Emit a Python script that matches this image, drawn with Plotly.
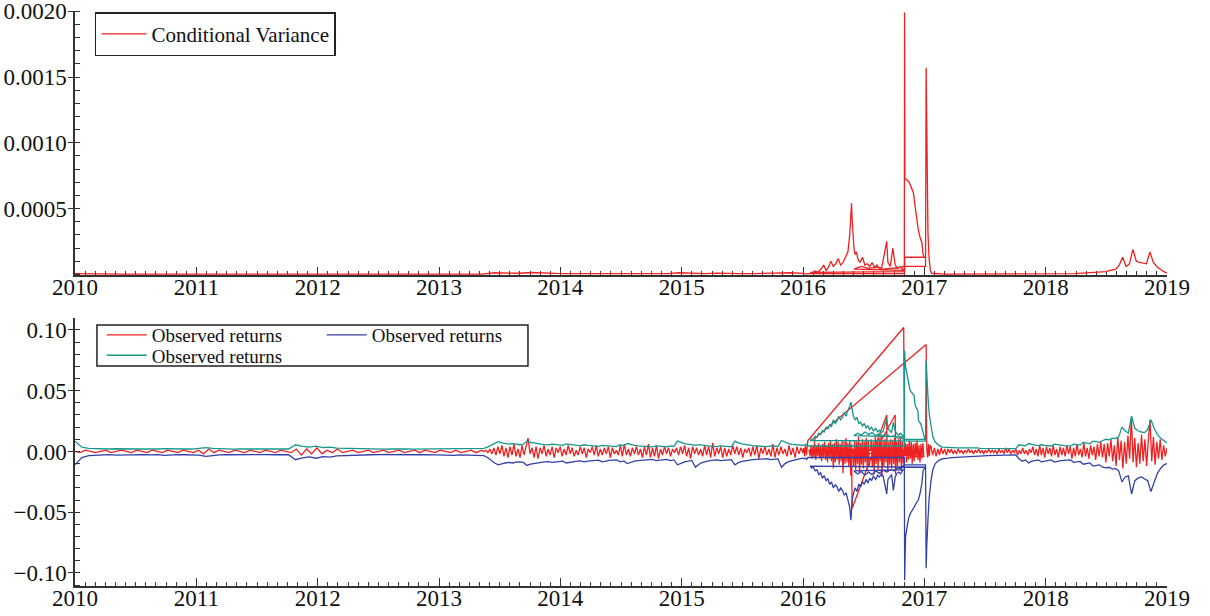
import numpy as np
import plotly.graph_objects as go

# ------------------------------------------------------------------
# DATA  (returns/bands in per-mille, conditional variance in 1e-6)
# quiet stretches are evenly sampled between the given start/end years
# ------------------------------------------------------------------
SPAN_A = (2010.0, 2013.35)
SPAN_B = (2013.37, 2016.0)

RED_A = [0, -1, 1, 0, -1, 0, 1, -1, 0, 1,
         0, -1, 1, 0, -1, 1, 0, -1, 1, 0,
         -1, 1, 0, -1, 1, -2, 2, -1, 1, 0,
         -1, 1, 0, -1, 1, 0, -1, 1, 0, -1,
         1, 0, -1, 2, -3, 2, -2, 3, -2, 1,
         -1, 2, -1, 0, 1, -1, 0, 1, -1, 0,
         1, -1, 0, 1, -1, 0, 1, -1, 1, 0,
         -1, 1, 0, -1, 1, -1, 0, 1, -1, 1]

GREEN_A = [8.5, 3.5, 2.5, 2.2, 2, 2, 2.2, 2, 1.8, 2,
           2, 1.8, 2, 2.3, 2, 1.8, 2, 2, 2.3, 3.2,
           2.6, 2.2, 2, 1.9, 2, 2, 1.8, 2, 2, 1.9,
           2, 2, 5.5, 4.2, 3.6, 4.3, 3.2, 3.6, 2.8, 2.6,
           2.4, 2.2, 2.1, 2, 2, 1.9, 2, 2.2, 2, 1.9,
           2, 2, 2.1, 2, 2.2, 2.5, 2.2, 2.4, 2.2, 2.5]

BLUE_A = [-11, -5, -3.5, -3, -2.8, -2.6, -3, -2.8, -2.6, -2.7,
          -2.6, -2.8, -2.6, -3.2, -2.8, -2.6, -2.7, -2.6, -3, -4,
          -3.2, -2.9, -2.7, -2.6, -2.7, -2.8, -2.6, -2.7, -2.6, -2.7,
          -2.6, -2.7, -6.8, -5.2, -4.5, -5.6, -4.2, -4.6, -3.6, -3.3,
          -3.1, -2.9, -2.8, -2.7, -2.6, -2.7, -2.6, -2.9, -2.7, -2.6,
          -2.7, -2.6, -2.8, -2.6, -2.9, -3.2, -2.9, -3.1, -3.3, -3.4]

RED_B = [0, 1, -1, 2, -2, 3, -3, 4, -2, 5, -4, 3, -5, 4, -3, 6, -4, 2, -5, 5,
         -3, 4, 11, -2, 3, -5, 4, -6, 3, -2, 5, -4, 2, -3, 4, -5, 3, -1, 4, -4,
         2, -3, 5, -2, 3, -4, 1, -3, 4, -2, 3, -5, 2, -1, 4, -3, 5, -4, 2, -3,
         3, -2, 4, -5, 3, -2, 1, -3, 5, -4, 6, -3, 2, -4, 3, -2, 4, -3, 2, -5,
         4, -3, 6, -5, 3, -4, 5, -6, 2, -3, 4, -2, 3, -4, 2, -1, 3, -3, 4, -2,
         5, -4, 3, -6, 4, -2, 3, -3, 2, -4, 5, -3, 4, -5, 7, -4, 3, -2, 4, -5,
         3, -4, 2, -3, 5, -2, 4, -3, 3, -5, 2, -1, 3, -4, 4, -3, 5, -6, 3, -2,
         4, -3, 2, -4, 6, -5, 3, -3, 4, -2, 2, -4, 5, -3, 3, -5, 4, -2, 3, -1]

GREEN_B = [2.5, 3.5, 5, 6.5, 8, 7, 6.5, 6, 6.5, 5.8,
           5.5, 6, 8.5, 7.5, 6.8, 6.2, 6, 5.6, 5.4, 6,
           5.5, 5.2, 5, 6.2, 5.6, 5.2, 5, 4.8, 5.5, 5,
           4.6, 4.4, 4.2, 5, 4.6, 4.4, 4.2, 4, 5.5, 4.8,
           6.5, 5.6, 5, 4.6, 4.4, 4.2, 4, 3.8, 4.6, 4.2,
           4, 3.8, 4.5, 4.2, 8.5, 7.2, 6.4, 6, 5.4, 5,
           5.6, 5, 4.6, 4.4, 4.2, 4, 4.6, 4.2, 4, 3.8,
           8.5, 7, 6.2, 5.6, 5.2, 4.8, 4.5, 4.3, 4.2, 4,
           4.6, 4.3, 4.1, 9, 7.4, 6.4, 5.8, 5.4, 5, 5]

BLUE_B = [-3.5, -5, -7.5, -9.5, -11, -10, -9.5, -9, -9.5, -8.8,
          -8.5, -9, -11.5, -10.5, -9.8, -9.2, -9, -8.6, -8.4, -9,
          -8.5, -8.2, -8, -9.5, -8.8, -8.2, -8, -7.8, -8.5, -8,
          -7.6, -7.4, -7.2, -8.5, -7.8, -7.4, -7.2, -7, -8.5, -7.8,
          -10, -8.8, -8, -7.6, -7.2, -7, -6.8, -6.6, -7.5, -7,
          -6.8, -6.6, -7.5, -7, -11, -9.5, -8.5, -8, -7.4, -13,
          -10.5, -9, -8, -7.5, -7.2, -7, -7.6, -7.2, -7, -6.8,
          -11, -9.2, -8.2, -7.6, -7.2, -6.8, -6.5, -6.3, -6.2, -6,
          -6.8, -6.3, -6.1, -13, -10, -8.4, -7.4, -6.8, -6.2, -5.5]

# 2016 stretch: the file's dates are out of order here, so (year, value) pairs
RED_2016 = [
    (2016.005, 3), (2016.012, -4), (2016.020, 5), (2016.028, -3), (2016.035, 4), (2016.040, 9),
    (2016.830, 102), (2016.836, -4),
    (2016.845, 7), (2016.852, -9), (2016.860, 6), (2016.868, -7), (2016.876, 9), (2016.884, -6),
    (2016.892, 8), (2016.900, -10), (2016.908, 6), (2016.916, -8), (2016.924, 7), (2016.932, -5),
    (2016.940, 9), (2016.948, -7), (2016.956, 5), (2016.964, -9), (2016.972, 6), (2016.980, -6),
    (2016.988, 7), (2016.996, -4),
    (2016.050, 1),
    (2016.058, -4), (2016.066, 5), (2016.074, -6), (2016.082, 4), (2016.090, -5), (2016.098, 6),
    (2016.106, -7), (2016.114, 5), (2016.122, -4), (2016.130, 7), (2016.138, -6), (2016.146, 4),
    (2016.154, -8), (2016.162, 6), (2016.170, -5), (2016.178, 8), (2016.186, -7), (2016.194, 5),
    (2016.202, -9), (2016.210, 7), (2016.218, -6), (2016.226, 9), (2016.234, -8), (2016.242, 6),
    (2016.250, -14), (2016.258, 7), (2016.266, -9), (2016.274, 10), (2016.282, -7), (2016.290, 8),
    (2016.298, -11), (2016.306, 6), (2016.314, -8), (2016.322, 9), (2016.330, -18), (2016.338, 8),
    (2016.346, -10), (2016.354, 11), (2016.362, -9), (2016.370, 7), (2016.378, -12), (2016.386, 9),
    (2016.394, -20), (2016.400, 6), (2016.405, -47),
    (2016.690, 30), (2016.693, -5), (2016.410, 2),
    (2016.418, -12), (2016.426, 9), (2016.434, -15), (2016.442, 8), (2016.450, -10), (2016.458, 12),
    (2016.466, -18), (2016.474, 7), (2016.482, -11), (2016.490, 10), (2016.498, -14), (2016.506, 8),
    (2016.514, -9), (2016.522, 11), (2016.530, -16), (2016.538, 9), (2016.546, -12), (2016.550, -8),
    (2016.760, 30), (2016.763, -3), (2016.555, 1),
    (2016.563, 10), (2016.571, -13), (2016.579, 8), (2016.587, -19), (2016.595, 12), (2016.603, -10),
    (2016.611, 9), (2016.619, -15), (2016.627, 11), (2016.635, -8), (2016.643, 13), (2016.651, -21),
    (2016.659, 9), (2016.667, -12), (2016.675, 10), (2016.683, -9), (2016.691, 12), (2016.699, -17),
    (2016.707, 8), (2016.715, -11), (2016.723, 10), (2016.731, -14), (2016.739, 9), (2016.747, -10),
    (2016.755, 11), (2016.763, -19), (2016.771, 8), (2016.779, -12), (2016.787, 10), (2016.795, -9),
    (2016.803, 12), (2016.811, -16), (2016.819, 8), (2016.827, -10),
    (2016.830, 1), (2016.065, 1), (2016.080, -3), (2016.090, 4), (2016.100, 11),
    (2017.015, 88), (2017.020, 2),
    (2017.027, -5), (2017.034, 6), (2017.041, -4), (2017.048, 5)]

GREEN_2016 = [
    (2016.010, 5.5), (2016.020, 5), (2016.030, 6), (2016.040, 4.5),
    (2016.835, 4.5), (2016.837, 83), (2016.845, 70), (2016.856, 65), (2016.883, 50), (2016.916, 46),
    (2016.924, 38), (2016.946, 33.6), (2016.952, 25.4), (2016.971, 22.7), (2016.988, 17.2),
    (2016.999, 12), (2017.007, 8.5),
    (2016.060, 9), (2016.070, 10.5), (2016.085, 10), (2016.100, 12.5), (2016.115, 11.5), (2016.130, 15),
    (2016.145, 14), (2016.160, 17), (2016.175, 16), (2016.190, 20), (2016.205, 18.5), (2016.220, 22),
    (2016.235, 20.5), (2016.250, 26), (2016.265, 23), (2016.280, 25), (2016.295, 29), (2016.310, 26),
    (2016.325, 28), (2016.340, 32), (2016.355, 29), (2016.370, 34), (2016.385, 37), (2016.395, 40.5),
    (2016.405, 33), (2016.415, 29), (2016.430, 26), (2016.445, 28), (2016.460, 23), (2016.475, 24),
    (2016.490, 21), (2016.505, 23), (2016.520, 19.5), (2016.535, 21), (2016.550, 18), (2016.565, 20),
    (2016.580, 17), (2016.600, 19), (2016.615, 16), (2016.630, 17.5), (2016.645, 15.5), (2016.660, 16.5),
    (2016.675, 22), (2016.690, 27), (2016.700, 19), (2016.715, 17), (2016.730, 15.5), (2016.745, 24),
    (2016.760, 17), (2016.775, 14.5), (2016.790, 13.5), (2016.805, 15), (2016.820, 12.5), (2016.830, 12),
    (2016.420, 13), (2016.450, 15), (2016.480, 13.5), (2016.510, 16), (2016.540, 14), (2016.570, 15.5),
    (2016.600, 13), (2016.630, 14.5), (2016.660, 12.5), (2016.690, 14), (2016.720, 12), (2016.750, 13),
    (2016.780, 11), (2016.810, 11.5), (2016.830, 10),
    (2017.010, 10), (2017.015, 75), (2017.020, 60), (2017.030, 45), (2017.040, 31), (2017.055, 20),
    (2017.070, 12), (2017.090, 7.7), (2017.120, 5), (2017.150, 3.6)]

BLUE_2016 = [
    (2016.010, -6), (2016.020, -5.5), (2016.030, -6.5), (2016.040, -5),
    (2016.835, -5), (2016.838, -106), (2016.845, -70), (2016.859, -59), (2016.870, -55), (2016.885, -51),
    (2016.900, -49), (2016.915, -46), (2016.930, -43), (2016.950, -40), (2016.966, -34), (2016.980, -26),
    (2016.990, -15.6), (2017.007, -13),
    (2016.060, -12), (2016.070, -13.5), (2016.085, -13), (2016.100, -16), (2016.115, -15), (2016.130, -19),
    (2016.145, -17.5), (2016.160, -22), (2016.175, -20), (2016.190, -24), (2016.205, -22.5), (2016.220, -27),
    (2016.235, -25), (2016.250, -30), (2016.265, -27.5), (2016.280, -29), (2016.295, -33), (2016.310, -30),
    (2016.325, -32), (2016.340, -36), (2016.355, -34), (2016.370, -40), (2016.385, -46), (2016.395, -56.6),
    (2016.405, -40), (2016.415, -35), (2016.430, -30), (2016.445, -33), (2016.460, -27), (2016.475, -29),
    (2016.490, -25), (2016.505, -27), (2016.520, -23), (2016.535, -26), (2016.550, -22), (2016.565, -24),
    (2016.580, -20.5), (2016.600, -23), (2016.615, -19.5), (2016.630, -21), (2016.645, -18.5), (2016.660, -20),
    (2016.675, -27), (2016.690, -35), (2016.700, -23), (2016.715, -20.5), (2016.730, -19), (2016.745, -32),
    (2016.760, -21), (2016.775, -18), (2016.790, -17), (2016.805, -18.5), (2016.820, -15.5), (2016.830, -15),
    (2016.420, -16), (2016.450, -18.5), (2016.480, -16.5), (2016.510, -19.5), (2016.540, -17), (2016.570, -19),
    (2016.600, -16), (2016.630, -18), (2016.660, -15.5), (2016.690, -17), (2016.720, -15), (2016.750, -16),
    (2016.780, -13.5), (2016.810, -14), (2016.830, -11),
    (2017.010, -11), (2017.015, -96), (2017.020, -78), (2017.030, -56), (2017.040, -38), (2017.055, -24),
    (2017.070, -15), (2017.090, -10), (2017.120, -7.3), (2017.150, -6)]

SPAN_RED_C = (2017.055, 2019.0)
RED_C = [4, -3, 3, -4, 2, -3, 3, -2, 2, -3,
         2, -1, 2, -2, 1, -2, 2, -1, 1, -2,
         1, -1, 2, -1, 1, -2, 1, -1, 2, -1,
         1, -2, 1, -1, 2, -1, 1, -1, 1, -2,
         2, -1, 1, -2, 3, -1, 2, -2, 1, -1,
         2, -3, 1, -2, 3, -2, 1, -3, 2, -1,
         4, -3, 2, -4, 5, -3, 3, -5, 4, -2,
         3, -4, 5, -3, 2, -5, 4, -3, 3, -4,
         5, -2, 4, -6, 3, -4, 6, -3, 2, -5,
         7, -4, 3, -6, 5, -3, 4, -7, 6, -4,
         8, -5, 6, -9, 7, -4, 10, -8, 5, -12,
         12, -7, 9, -14, 8, -10, 13, -6, 28, -9,
         11, -13, 7, -10, 14, -8, 10, -12, 9, 26,
         -8, 12, -11, 8, -6, 10, -7, 5, -4, 3]

SPAN_BAND_C = (2017.17, 2019.0)
GREEN_C = [3.4, 3.2, 3, 3, 2.9, 3, 3.1, 2.8, 2.7, 2.8,
           3, 2.6, 2.6, 2.5, 2.7, 2.5, 2.4, 2.6, 2.5, 2.4,
           2.6, 2.4, 2.3, 5.5, 5, 4.6, 6.5, 5.6, 5.2, 4.8,
           5.5, 5, 4.7, 4.5, 6, 5.4, 5, 4.8, 4.6, 4.4,
           6, 5.5, 5.2, 7.5, 6.8, 6.3, 8.5, 8, 7.5, 9,
           10, 9.5, 11, 10.5, 12, 20, 17, 15, 29, 19,
           17, 16, 15.5, 18, 26, 19, 14, 11, 9, 7]
BLUE_C = [-6, -5.5, -5, -4.8, -4.6, -4.5, -4.3, -4.2, -4, -3.9,
          -3.8, -3.7, -3.6, -3.5, -3.4, -3.4, -3.3, -3.2, -3.2, -3.1,
          -3, -3, -2.9, -6, -8, -7, -9.5, -8, -7.4, -7,
          -8.5, -7.8, -7.2, -7, -8.8, -8, -7.6, -7.4, -7.2, -7,
          -9, -8.5, -8.2, -10.5, -9.8, -9.4, -12, -11.5, -11, -13,
          -13.5, -13, -14.5, -14, -16, -25, -21, -20, -35, -24,
          -22, -21, -22.5, -24, -33, -25, -18, -14, -11, -10]

# conditional variance (1e-6 units)
SPAN_CV_A = (2010.0, 2016.0)
CV_A = [5, 3, 2, 1, 1, 1, 1, 1, 1, 1,
        2, 1, 1, 1, 1, 1, 1, 1, 5, 3,
        2, 1, 1, 1, 1, 1, 1, 1, 1, 1,
        1, 1, 1, 1, 12, 10, 8, 14, 9, 7,
        6, 8, 5, 6, 5, 7, 5, 5, 6, 12,
        8, 6, 9, 6, 5, 6, 8, 6, 12, 8]
CV_2016 = [
    (2016.010, 3), (2016.040, 5), (2016.835, 5), (2016.837, 1990), (2016.840, 730),
    (2016.875, 700), (2016.890, 660), (2016.910, 620), (2016.925, 510), (2016.940, 400), (2016.950, 340),
    (2016.965, 280), (2016.980, 240), (2016.990, 150), (2017.000, 130), (2016.838, 130), (2016.838, 20),
    (2016.060, 15), (2016.080, 10), (2016.100, 25), (2016.120, 15), (2016.150, 40), (2016.170, 70),
    (2016.190, 30), (2016.210, 55), (2016.230, 100), (2016.250, 60), (2016.270, 80), (2016.290, 120),
    (2016.310, 70), (2016.330, 90), (2016.350, 130), (2016.370, 170), (2016.385, 300), (2016.395, 480),
    (2016.400, 540), (2016.405, 420), (2016.410, 300), (2016.420, 200), (2016.430, 150), (2016.440, 170),
    (2016.455, 110), (2016.470, 90), (2016.490, 130), (2016.510, 70), (2016.530, 80), (2016.550, 60),
    (2016.570, 90), (2016.590, 50), (2016.610, 70), (2016.630, 45), (2016.650, 55), (2016.670, 160),
    (2016.690, 250), (2016.700, 90), (2016.720, 60), (2016.740, 200), (2016.760, 70), (2016.780, 45),
    (2016.800, 55), (2016.820, 40), (2016.830, 30),
    (2016.420, 40), (2016.480, 60), (2016.540, 45), (2016.600, 55), (2016.660, 40), (2016.720, 45),
    (2016.780, 50), (2016.830, 60), (2017.010, 60), (2017.015, 1570), (2017.018, 1200), (2017.022, 660),
    (2017.030, 310), (2017.040, 110), (2017.050, 30)]
SPAN_CV_C = (2017.06, 2019.0)
CV_C = [8, 5, 3, 3, 2, 2, 2, 2, 2, 2,
        2, 2, 1, 1, 1, 1, 1, 1, 1, 1,
        1, 1, 1, 1, 2, 2, 3, 3, 3, 3,
        4, 3, 3, 3, 4, 4, 3, 3, 4, 4,
        5, 6, 5, 7, 8, 10, 9, 12, 14, 13,
        18, 20, 25, 30, 40, 70, 130, 60, 80, 190,
        100, 90, 85, 80, 170, 90, 60, 40, 20, 10]

YEARS = list(range(2010, 2020))
TOP_TICKS = [0.0005, 0.0010, 0.0015, 0.0020]
TOP_TICKTEXT = ["0.0005", "0.0010", "0.0015", "0.0020"]
BOT_TICKS = [-0.10, -0.05, 0.0, 0.05, 0.10]
BOT_TICKTEXT = ["\u22120.10", "\u22120.05", "0.00", "0.05", "0.10"]


def even(span, vals):
    return list(np.linspace(span[0], span[1], len(vals))), list(vals)


def build(parts):
    xs, ys = [], []
    for p in parts:
        if isinstance(p[0], tuple):
            xs += [a for a, _ in p]
            ys += [b for _, b in p]
        else:
            xs += p[0]
            ys += p[1]
    return np.array(xs), np.array(ys, dtype=float)


rx, ry = build([even(SPAN_A, RED_A), even(SPAN_B, RED_B), RED_2016, even(SPAN_RED_C, RED_C)])
gx, gy = build([even(SPAN_A, GREEN_A), even(SPAN_B, GREEN_B), GREEN_2016, even(SPAN_BAND_C, GREEN_C)])
bx, by = build([even(SPAN_A, BLUE_A), even(SPAN_B, BLUE_B), BLUE_2016, even(SPAN_BAND_C, BLUE_C)])
cx, cy = build([even(SPAN_CV_A, CV_A), CV_2016, even(SPAN_CV_C, CV_C)])

RED = "#ee2020"
BLUE = "#3340a8"
TEAL = "#16968b"
AX = "#333333"
FONT = "Liberation Serif"

fig = go.Figure()
fig.add_trace(go.Scatter(x=cx, y=cy * 1e-6, mode="lines", name="Conditional Variance",
                         line=dict(color=RED, width=1.3), xaxis="x", yaxis="y", legend="legend"))
fig.add_trace(go.Scatter(x=rx, y=ry / 1000, mode="lines", name="Observed returns",
                         line=dict(color=RED, width=1.3), xaxis="x2", yaxis="y2", legend="legend2"))
fig.add_trace(go.Scatter(x=bx, y=by / 1000, mode="lines", name="Observed returns",
                         line=dict(color=BLUE, width=1.3), xaxis="x2", yaxis="y2", legend="legend2"))
fig.add_trace(go.Scatter(x=gx, y=gy / 1000, mode="lines", name="Observed returns",
                         line=dict(color=TEAL, width=1.3), xaxis="x2", yaxis="y2", legend="legend3"))

tickfont = dict(family=FONT, size=23, color="#111111")
xcommon = dict(range=[2010, 2019], tickmode="array", tickvals=YEARS, ticktext=[str(y) for y in YEARS],
               ticks="inside", ticklen=8, tickwidth=1.2, tickcolor=AX, ticklabelstandoff=-9,
               showline=True, linecolor=AX, linewidth=1.5, showgrid=False, zeroline=False,
               tickfont=tickfont, layer="below traces", automargin=False, ticklabeloverflow="allow",
               minor=dict(tickmode="linear", tick0=2010, dtick=1 / 12, ticks="inside", ticklen=4,
                          tickwidth=1, tickcolor=AX, showgrid=False))
ycommon = dict(ticks="outside", ticklen=5, tickwidth=1.2, tickcolor=AX, ticklabelstandoff=-3,
               showline=True, linecolor=AX, linewidth=1.5, showgrid=False, zeroline=False,
               tickfont=tickfont, automargin=False, ticklabeloverflow="allow")

LEGFONT = dict(family=FONT, size=19, color="#111111")

fig.update_layout(
    width=1210, height=616, template="none",
    paper_bgcolor="white", plot_bgcolor="white",
    margin=dict(l=75, r=43, t=11, b=30),
    xaxis=dict(domain=[0, 1], anchor="y", **xcommon),
    xaxis2=dict(domain=[0, 1], anchor="y2", **xcommon),
    yaxis=dict(domain=[0.5409, 1], range=[-0.000005, 0.002002], tickmode="array", tickvals=TOP_TICKS,
               ticktext=TOP_TICKTEXT, **ycommon,
               minor=dict(tickmode="linear", tick0=0, dtick=0.0001, ticks="inside", ticklen=5,
                          tickwidth=1, tickcolor=AX, showgrid=False)),
    yaxis2=dict(domain=[0, 0.4661], range=[-0.1107, 0.1098], tickmode="array", tickvals=BOT_TICKS,
                ticktext=BOT_TICKTEXT, **ycommon,
                minor=dict(tickmode="linear", tick0=0, dtick=0.01, ticks="inside", ticklen=5,
                           tickwidth=1, tickcolor=AX, showgrid=False)),
    showlegend=True,
    legend=dict(x=0.0183, y=0.998, xanchor="left", yanchor="top", bgcolor="white",
                bordercolor="#222222", borderwidth=1.5, font=dict(family=FONT, size=21, color="#111111"),
                itemwidth=45, tracegroupgap=0),
    legend2=dict(x=0.0245, y=0.4696, xanchor="left", yanchor="top", orientation="h",
                 bgcolor="rgba(0,0,0,0)", borderwidth=0, entrywidth=165, entrywidthmode="pixels",
                 itemwidth=40, font=LEGFONT),
    legend3=dict(x=0.0245, y=0.4341, xanchor="left", yanchor="top", orientation="h",
                 bgcolor="rgba(0,0,0,0)", borderwidth=0, itemwidth=40, font=LEGFONT),
    shapes=[dict(type="rect", xref="paper", yref="paper", x0=0.0201, x1=0.4148, y0=0.3826, y1=0.4539,
                 line=dict(color="#222222", width=1.5), fillcolor="white", layer="below")],
)

fig.write_html("out.html")
